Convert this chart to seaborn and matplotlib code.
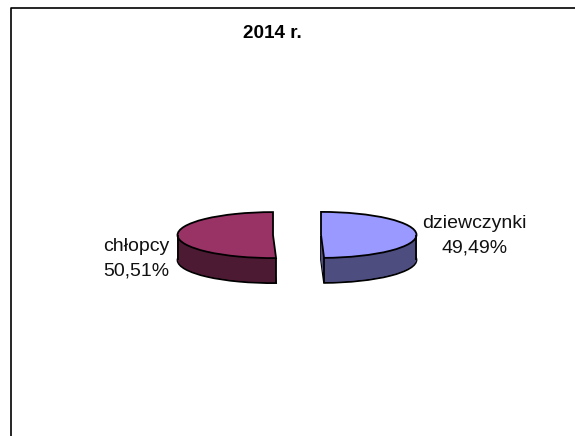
import numpy as np
import matplotlib
matplotlib.use("Agg")
import matplotlib.pyplot as plt
from matplotlib.lines import Line2D
import seaborn as sns

title = "2014 r."
categories = ["dziewczynki", "chłopcy"]
shares = [49.49, 50.51]
top_colors = ["#9999FF", "#993366"]
side_colors = ["#4D4D80", "#4D1A33"]

W, H = 575, 436
cx, cy = 297, 235     # pie centre, pixels
rx, ry = 95.5, 23     # pie radii, pixels
depth = 25
lw = 1.3

sns.set_theme(style="white", font="Liberation Sans")

fig = plt.figure(figsize=(W / 100, H / 100), dpi=100, facecolor="white")
ax = fig.add_axes([0, 0, 1, 1])

explode = [24 / rx] * len(shares)
dy = depth / ry

# bottom outline, then the side wall stacked on it, then the top face
ax.pie(shares, explode=explode, colors=side_colors, startangle=90, counterclock=False,
	center=(0, -dy), wedgeprops=dict(edgecolor="black", linewidth=lw))
for off in np.arange(depth - 1, 0, -1):
	ax.pie(shares, explode=explode, colors=side_colors, startangle=90, counterclock=False,
		center=(0, -off / ry), wedgeprops=dict(edgecolor="none", linewidth=0))
wedges, _ = ax.pie(shares, explode=explode, colors=top_colors, startangle=90, counterclock=False,
	wedgeprops=dict(edgecolor="black", linewidth=lw))

# vertical wall edges at the cut and at the widest point of each slice
for w in wedges:
	for ang in (w.theta1, w.theta2):
		a = np.radians(ang)
		if np.sin(a) < 0:
			x = w.center[0] + w.r * np.cos(a)
			y = w.center[1] + w.r * np.sin(a)
			ax.plot([x, x], [y, y - dy], color="black", linewidth=lw, solid_capstyle="butt")
	side = 1 if w.center[0] > 0 else -1
	x = w.center[0] + side * w.r
	ax.plot([x, x], [w.center[1], w.center[1] - dy], color="black", linewidth=lw, solid_capstyle="butt")

ax.set_aspect("auto")
ax.set_xlim(-cx / rx, (W - cx) / rx)
ax.set_ylim(-(H - cy) / ry, cy / ry)
ax.axis("off")

fmt = lambda v: f"{v:.2f}%".replace(".", ",")
fig.text(474.5 / W, 1 - 235.5 / H, f"{categories[0]}\n{fmt(shares[0])}", ha="center", va="center",
	fontsize=14, color="#111111", linespacing=1.55)
fig.text(136.5 / W, 1 - 258.5 / H, f"{categories[1]}\n{fmt(shares[1])}", ha="center", va="center",
	fontsize=14, color="#111111", linespacing=1.55)
fig.text(272 / W, 1 - 33 / H, title, ha="center", va="center", fontsize=13.6, fontweight="bold", color="black")

# chart frame: only top and left are in view
fig.add_artist(Line2D([10.5 / W, 10.5 / W, 1], [0, 1 - 8 / H, 1 - 8 / H], color="black", linewidth=1.2))

fig.savefig("out.png", dpi=100)
